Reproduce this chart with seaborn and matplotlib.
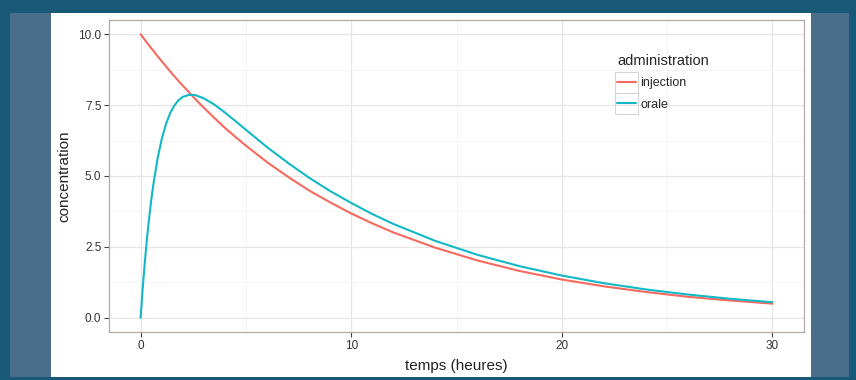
import numpy as np
import pandas as pd
import matplotlib
matplotlib.use("Agg")
import matplotlib.pyplot as plt
from matplotlib.patches import Rectangle
import seaborn as sns

# --- valeurs ---
temps = [0, 0.05, 0.1, 0.2, 0.3, 0.4, 0.5, 0.6, 0.8, 1.0, 1.2, 1.4, 1.6, 1.8,
         2.0, 2.3, 2.6, 3.0, 3.5, 4, 4.5, 5, 6, 7, 8, 9, 10, 11, 12, 14, 16,
         18, 20, 22, 24, 26, 28, 30]
injection = [10.0, 9.95, 9.90, 9.80, 9.70, 9.61, 9.51, 9.42, 9.23, 9.05, 8.87,
             8.69, 8.52, 8.35, 8.19, 7.95, 7.71, 7.41, 7.05, 6.70, 6.38, 6.07,
             5.49, 4.97, 4.49, 4.07, 3.68, 3.33, 3.01, 2.47, 2.02, 1.65, 1.35,
             1.11, 0.91, 0.74, 0.61, 0.50]
orale = [0.0, 0.53, 1.04, 1.95, 2.77, 3.48, 4.12, 4.67, 5.59, 6.29, 6.82,
         7.21, 7.48, 7.67, 7.79, 7.86, 7.85, 7.74, 7.52, 7.24, 6.94, 6.63,
         6.02, 5.46, 4.94, 4.47, 4.05, 3.66, 3.31, 2.71, 2.22, 1.82, 1.49,
         1.22, 1.00, 0.82, 0.67, 0.55]
x_ticks = [0, 10, 20, 30]
y_ticks = [0.0, 2.5, 5.0, 7.5, 10.0]

df = pd.DataFrame({
    "temps": temps * 2,
    "concentration": injection + orale,
    "administration": ["injection"] * len(temps) + ["orale"] * len(temps),
})

sns.set_theme(style="white")
plt.rcParams["font.family"] = ["Liberation Sans", "DejaVu Sans"]

W, H = 856, 380
fig = plt.figure(figsize=(W / 100, H / 100), dpi=100)
fig.patch.set_facecolor("#1a5878")

# cadre bleu clair + zone blanche
fig.patches.append(Rectangle((10 / W, 3 / H), (849 - 10) / W, (367 - 3) / H,
                             transform=fig.transFigure, facecolor="#4a6d8c",
                             edgecolor="none", zorder=-10))
fig.patches.append(Rectangle((51 / W, 3 / H), (811 - 51) / W, (367 - 3) / H,
                             transform=fig.transFigure, facecolor="white",
                             edgecolor="none", zorder=-9))

ax = fig.add_axes([109 / W, 48 / H, (804 - 109) / W, (332 - 20) / H])
ax.set_facecolor("white")

palette = {"injection": "#F6695F", "orale": "#12B8C6"}
sns.lineplot(data=df, x="temps", y="concentration", hue="administration",
             palette=palette, linewidth=1.5, ax=ax)

ax.set_xlim(-1.5, 31.5)
ax.set_ylim(-0.5, 10.5)
ax.set_xticks(x_ticks)
ax.set_yticks(y_ticks)
ax.set_xticklabels([str(t) for t in x_ticks])
ax.set_yticklabels([f"{t:.1f}" for t in y_ticks])

# grille majeure et mineure (style theme_bw)
ax.set_xticks([5, 15, 25], minor=True)
ax.set_yticks([1.25, 3.75, 6.25, 8.75], minor=True)
ax.grid(True, which="major", color="#e6e6e6", linewidth=0.9)
ax.grid(True, which="minor", color="#f3f3f3", linewidth=0.6)
ax.set_axisbelow(True)
ax.tick_params(which="minor", length=0)
ax.tick_params(which="major", length=3.5, width=0.8, color="#444444",
               labelsize=8.5, labelcolor="#333333", pad=2, left=True, bottom=True)

for s in ax.spines.values():
    s.set_color("#b3a9a5")
    s.set_linewidth(0.9)

ax.set_xlabel("temps (heures)", fontsize=11, color="#222222", labelpad=5)
ax.set_ylabel("concentration", fontsize=11, color="#222222", labelpad=5)

leg = ax.legend(title="administration", loc="upper left",
                bbox_to_anchor=(617 / W, 1 - 54 / H),
                bbox_transform=fig.transFigure, frameon=False, fontsize=9,
                title_fontsize=10.5, handlelength=1.5, handletextpad=0.35,
                labelspacing=0.75, borderpad=0, borderaxespad=0)
leg._legend_box.align = "left"
for line in leg.get_lines():
    line.set_linewidth(1.5)

# cases grises autour des clés de légende
fig.canvas.draw()
for line in leg.get_lines():
    bb = line.get_window_extent()
    cx = (bb.x0 + bb.x1) / 2
    cy = (bb.y0 + bb.y1) / 2
    fig.patches.append(Rectangle(((cx - 11.5) / W, (cy - 10.5) / H), 23 / W, 21 / H,
                                 transform=fig.transFigure, facecolor="none",
                                 edgecolor="#d5d5d5", linewidth=0.8, zorder=5))

fig.savefig("out.png", dpi=100, facecolor=fig.get_facecolor())
